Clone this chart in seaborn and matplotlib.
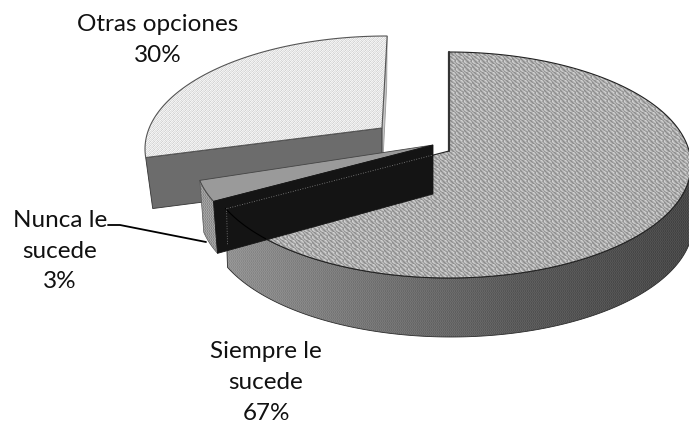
import numpy as np
import matplotlib
matplotlib.use("Agg")
import matplotlib.pyplot as plt
from matplotlib.patches import Polygon
import seaborn as sns

labels = ["Siempre le\nsucede", "Nunca le\nsucede", "Otras opciones"]
values = [67, 3, 30]

sns.set_theme(style="white")
plt.rcParams["font.family"] = ["Lato", "DejaVu Sans"]

W, H = 689, 425
RX, RY = 242, 113


def rim(center, apex, a0, a1, n=120):
    # point where a ray from the apex meets the ellipse, angle in degrees
    ax_, ay_ = (apex[0] - center[0]) / RX, (center[1] - apex[1]) / RY
    pts = []
    for a in np.radians(np.linspace(a0, a1, n)):
        dx, dy = np.cos(a), np.sin(a)
        b = ax_ * dx + ay_ * dy
        t = -b + np.sqrt(b * b - (ax_ ** 2 + ay_ ** 2 - 1))
        pts.append((center[0] + RX * (ax_ + t * dx), center[1] - RY * (ay_ + t * dy)))
    return np.array(pts)


def drop(pts, depth, shift=0):
    out = pts + np.array([shift, depth])
    return out[::-1]


def textured(ax, poly, img, edge=None, lw=0.8):
    im = ax.imshow(img, extent=(0, W, H, 0), cmap="gray", vmin=0, vmax=255,
                   interpolation="nearest", aspect="auto", zorder=ax_order[0])
    patch = Polygon(poly, closed=True, transform=ax.transData, fc="none", ec="none")
    ax.add_patch(patch)
    im.set_clip_path(patch)
    if edge:
        ax.add_patch(Polygon(poly, closed=True, fc="none", ec=edge, lw=lw, zorder=ax_order[0] + 0.5))
    ax_order[0] += 1


def flat(ax, poly, color, edge=None, lw=0.6):
    ax.add_patch(Polygon(poly, closed=True, fc=color, ec=edge if edge else color, lw=lw, zorder=ax_order[0]))
    ax_order[0] += 1


ax_order = [1]

# slice angles, clockwise from the top
sweep = np.array(values) / sum(values) * 360
main_end = 90 - sweep[0]
nunca_end = main_end - sweep[1]
otras_end = nunca_end - sweep[2]

# textures
weave = np.array([
    [190, 165, 140, 160, 190, 210, 180, 150],
    [160, 190, 170, 140, 165, 190, 205, 170],
    [140, 160, 190, 180, 150, 165, 185, 200],
    [165, 140, 165, 195, 205, 170, 150, 165],
    [200, 175, 145, 165, 190, 210, 175, 145],
    [210, 190, 165, 140, 160, 190, 165, 150],
    [180, 205, 185, 160, 140, 165, 190, 165],
    [150, 170, 200, 190, 165, 140, 165, 190],
])
dots = np.array([
    [245, 215, 240, 225],
    [225, 240, 210, 245],
    [240, 210, 245, 225],
    [215, 245, 225, 235],
])
rows = np.tile(weave, (H // 8 + 1, W // 8 + 1))[:H, :W]
dot_img = np.tile(dots, (H // 4 + 1, W // 4 + 1))[:H, :W]
fine = np.tile(np.array([[8, -8], [-4, 6], [6, -6]]), (H // 3 + 1, W // 2 + 1))[:H, :W]

ramp = np.array(sns.blend_palette(["#9c9c9c", "#9c9c9c", "#7a7a7a", "#5a5a5a", "#484848"], W))[:, 0] * 255
side_img = np.tile(ramp, (H, 1)) + fine
slab_side = np.full((H, W), 150.0) + fine * 2

fig = plt.figure(figsize=(W / 100, H / 100), dpi=100)
ax = fig.add_axes([0, 0, 1, 1])
ax.set_xlim(0, W)
ax.set_ylim(H, 0)
ax.axis("off")

# Otras opciones, pulled back to the upper left
o_center, o_apex = (387, 149), (382, 128)
o_rim = rim(o_center, o_apex, nunca_end + 360 - 3, otras_end + 360 - 1.5)
o_apex = np.array(o_apex)
flat(ax, [o_rim[-1], o_apex, o_apex + [0, 51], o_rim[-1] + [-0.5, 51]], "#c6c6c6", "#9a9a9a")
flat(ax, [o_apex, o_rim[0], o_rim[0] + [7, 51], o_apex + [0, 51]], "#6c6c6c", "#333333")
textured(ax, np.vstack([[o_apex], o_rim]), dot_img, "#555555")

# Siempre le sucede, the large slice
m_center, m_apex = (449, 165), (449, 151)
m_rim = rim(m_center, m_apex, 90, main_end, 300)
m_low = rim(m_center, m_apex, main_end, 0, 200)
side = np.vstack([m_low, drop(m_low, 59, 2)])
textured(ax, side, side_img, "#2a2a2a", 0.6)
top = np.vstack([[m_apex], m_rim])
textured(ax, top, rows, "#222222")
ax.plot([449, 449], [52, 151], color="#333333", lw=1.6, zorder=ax_order[0])

# Nunca le sucede, the thin black slab
n_center, n_apex = (437, 158), np.array((433, 145))
n_rim = rim(n_center, n_apex, main_end, nunca_end, 30)
textured(ax, np.vstack([n_rim, drop(n_rim, 52, 4)]), slab_side, "#555555", 0.5)
flat(ax, np.vstack([[n_apex], n_rim]), "#9a9a9a", "#444444", 0.6)
flat(ax, [n_apex, n_rim[0], n_rim[0] + [4, 52], n_apex + [0, 49]], "#141414")

# main slice outline seen through the slab
hidden = m_rim[m_rim[:, 0] < 268]
ax.plot(hidden[:, 0], hidden[:, 1], color="#000000", lw=0.8, zorder=ax_order[0])
ax.plot([m_rim[-1][0] + 2, 433], [m_rim[-1][1], 155], color="#8a8a8a", lw=0.6, ls=(0, (1, 2)), zorder=ax_order[0])
ax.plot([m_rim[-1][0] + 1, m_rim[-1][0] + 2], [m_rim[-1][1], 245], color="#8a8a8a", lw=0.6, ls=(0, (1, 2)), zorder=ax_order[0])

# labels
ax.plot([108, 120, 206], [225, 225, 242], color="#000000", lw=1.3, zorder=ax_order[0])
for label, value, x, y in zip(labels, values, [266, 60, 158], [382.5, 251, 40]):
    ax.text(x, y, f"{label}\n{value}%", ha="center", va="center", fontsize=17.5,
            color="#111111", linespacing=1.58, zorder=ax_order[0] + 1)

fig.savefig("out.png", dpi=100)
